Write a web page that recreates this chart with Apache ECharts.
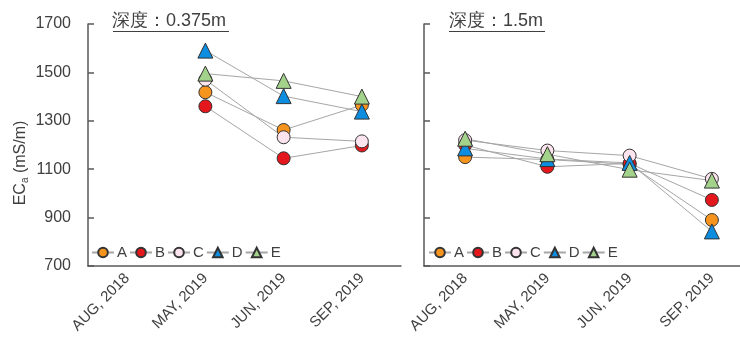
<!DOCTYPE html>
<html>
<head>
<meta charset="utf-8">
<script src="https://cdn.jsdelivr.net/npm/echarts@6/dist/echarts.min.js"></script>
<style>html,body{margin:0;padding:0;background:#fff;overflow:hidden;width:740px;height:342px}#c{width:753px;height:342px}</style>
</head>
<body>
<div id="c"></div>
<script>
const categories = ['AUG, 2018', 'MAY, 2019', 'JUN, 2019', 'SEP, 2019'];
const seriesNames = ['A', 'B', 'C', 'D', 'E'];
const yTicks = [700, 900, 1100, 1300, 1500, 1700];
const titleShallow = '深度：0.375m';
const titleDeep = '深度：1.5m';

// depth 0.375 m
const shallowA = [null, 1418, 1262, 1365];
const shallowB = [null, 1360, 1145, 1198];
const shallowC = [null, 1470, 1232, 1215];
const shallowD = [null, 1590, 1402, 1338];
const shallowE = [null, 1495, 1465, 1400];
// depth 1.5 m
const deepA = [1150, 1140, 1120, 890];
const deepB = [1200, 1110, 1124, 973];
const deepC = [1220, 1177, 1156, 1060];
const deepD = [1186, 1142, 1126, 843];
const deepE = [1226, 1162, 1098, 1053];

const colors = ['#F7941D', '#E3171C', '#FCE4EE', '#0C8DE0', '#A3D28A'];
const symbols = ['circle', 'circle', 'circle', 'triangle', 'triangle'];
const shallow = [shallowA, shallowB, shallowC, shallowD, shallowE];
const deep = [deepA, deepB, deepC, deepD, deepE];

const axisColor = '#595959';
const textColor = '#404040';
const font = 'Liberation Sans, Arial, sans-serif';

function xAxis(gi) {
  return {
    type: 'category', gridIndex: gi, data: categories, boundaryGap: true,
    axisLine: { lineStyle: { color: axisColor, width: 1.5 } },
    axisTick: { show: false },
    axisLabel: { rotate: 45, margin: 10, fontSize: 15, color: textColor, fontFamily: font, interval: 0 }
  };
}
function yAxis(gi, showLabels) {
  const ax = {
    type: 'value', gridIndex: gi, min: yTicks[0], max: yTicks[yTicks.length - 1], interval: 200,
    axisLine: { show: true, lineStyle: { color: axisColor, width: 1.5 } },
    axisTick: { show: true, inside: true, length: 6, lineStyle: { color: axisColor, width: 1.5 } },
    splitLine: { show: false },
    axisLabel: { show: showLabels, fontSize: 16, color: textColor, fontFamily: font, margin: 17,
      formatter: v => String(v) }
  };
  if (showLabels) {
    ax.name = '{n|EC}{s|a}{n| (mS/m)}';
    ax.nameLocation = 'middle';
    ax.nameGap = 58;
    ax.nameTextStyle = {
      padding: [0, 36, 0, 0],
      rich: {
        n: { fontSize: 16, color: textColor, fontFamily: font },
        s: { fontSize: 10, color: textColor, fontFamily: font, verticalAlign: 'bottom', padding: [8, 0, 0, 0] }
      }
    };
  }
  return ax;
}

const series = [];
[shallow, deep].forEach((set, gi) => {
  set.forEach((vals, i) => {
    series.push({
      name: seriesNames[i], type: 'line', xAxisIndex: gi, yAxisIndex: gi,
      data: vals, symbol: symbols[i], symbolSize: symbols[i] === 'circle' ? 13 : 15,
      showAllSymbol: true,
      lineStyle: { color: '#a6a6a6', width: 1 },
      itemStyle: { color: colors[i], borderColor: '#333', borderWidth: 1 },
      emphasis: { disabled: true },
      animation: false
    });
  });
});

function legend(left) {
  return {
    left: left, top: 245, padding: 0, itemWidth: 22, itemHeight: 12, itemGap: 2,
    data: seriesNames, textStyle: { fontSize: 15, color: textColor, fontFamily: font, padding: [0, 0, 0, -2] },
    selectedMode: false
  };
}

const chart = echarts.init(document.getElementById('c'));
chart.setOption({
  backgroundColor: '#fff',
  animation: false,
  grid: [
    { left: 88, top: 24, width: 313, height: 242 },
    { left: 424, top: 24, width: 329, height: 242 }
  ],
  title: [
    { text: titleShallow, left: 112, top: 12, padding: 0, textStyle: { fontSize: 18, fontWeight: 'normal', color: textColor, fontFamily: font } },
    { text: titleDeep, left: 449, top: 12, padding: 0, textStyle: { fontSize: 18, fontWeight: 'normal', color: textColor, fontFamily: font } }
  ],
  graphic: [
    { type: 'line', shape: { x1: 113, y1: 31.5, x2: 229, y2: 31.5 }, style: { stroke: textColor, lineWidth: 1.2 } },
    { type: 'line', shape: { x1: 449, y1: 31.5, x2: 545, y2: 31.5 }, style: { stroke: textColor, lineWidth: 1.2 } }
  ],
  legend: [legend(91), legend(428)],
  xAxis: [xAxis(0), xAxis(1)],
  yAxis: [yAxis(0, true), yAxis(1, false)],
  series: series
});
</script>
</body>
</html>
